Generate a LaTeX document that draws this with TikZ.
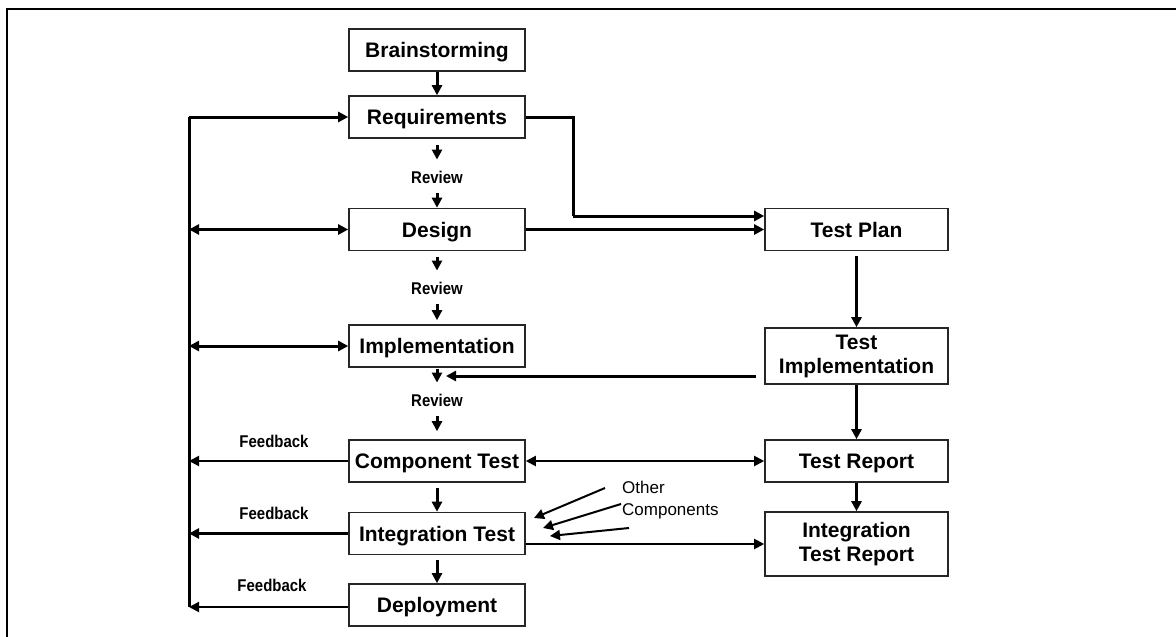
\documentclass[tikz,border=0pt]{standalone}
\usepackage{fontspec}
\setmainfont{Liberation Sans}
\newfontfamily\narrowsf[FakeStretch=0.88]{Liberation Sans}
\usetikzlibrary{arrows.meta,calc}
\tikzset{
  box/.style={rectangle, draw=black!85, line width=1.6pt, fill=white,
              minimum width=176pt, minimum height=42pt, align=center,
              inner sep=2pt, font=\fontsize{21}{24}\selectfont\bfseries},
  stage/.style={box, text height=15pt, text depth=0pt},
  tbox/.style={stage, minimum width=183pt},
  tbox2/.style={box, minimum width=183pt},
  flow/.style={-{Triangle[length=10pt,width=10pt]}, line width=3pt},
  flowt/.style={-{Triangle[length=10pt,width=10pt]}, line width=2pt},
  biflow/.style={{Triangle[length=10pt,width=10pt]}-{Triangle[length=10pt,width=10pt]},
                 line width=3pt},
  biflowt/.style={biflow, line width=2pt},
  revin/.style={flow, shorten <=6pt, shorten >=11pt},
  revout/.style={flow, shorten <=10pt},
  lbl/.style={inner sep=0pt, font=\narrowsf\bfseries\fontsize{17}{20}\selectfont},
  note/.style={inner sep=0pt, align=left, font=\fontsize{17}{22}\selectfont},
}
\begin{document}
\begin{tikzpicture}[x=1pt, y=-1pt]
  \useasboundingbox (0,0) rectangle (1176,637);
  % --- open frame (top and left edge) ---
  \draw[line width=2.2pt] (7,637) -- (7,9) -- (1176,9);

  % --- development stages (left column) ---
  \node[stage] (brain)  at (437,50)    {Brainstorming};
  \node[stage] (req)    at (437,117)   {Requirements};
  \node[stage] (design) at (437,229.5) {Design};
  \node[stage] (impl)   at (437,346)   {Implementation};
  \node[stage] (comp)   at (437,461)   {Component Test};
  \node[stage] (integ)  at (437,533.5) {Integration Test};
  \node[stage] (deploy) at (437,605)   {Deployment};

  % --- test artefacts (right column) ---
  \node[tbox] (tplan) at (856.5,229.5) {Test Plan};
  \node[tbox2, minimum height=56pt] (timpl) at (856.5,356) {Test\\Implementation};
  \node[tbox] (trep)  at (856.5,461)   {Test Report};
  \node[tbox2, minimum height=64pt] (itrep) at (856.5,544) {Integration\\Test Report};

  % --- labels ---
  \node[lbl] (rev1) at (437,177) {Review};
  \node[lbl] (rev2) at (437,288) {Review};
  \node[lbl] (rev3) at (437,400) {Review};
  \node[lbl] (fb1) at (274,441) {Feedback};
  \node[lbl] (fb2) at (274,513) {Feedback};
  \node[lbl] (fb3) at (272,585) {Feedback};
  \node[note, anchor=west] (other) at (622,500) {Other\\Components};

  % --- helper points ---
  \coordinate (bus)    at (189,117);
  \coordinate (busend) at (189,607);
  \coordinate (bend)   at (573,216);
  \coordinate (rjoin)  at (446,376);

  % --- main flow ---
  \draw[flow] (brain) -- (req);
  \draw[revin]  (req) -- (rev1);
  \draw[revout] (rev1) -- (design);
  \draw[revin]  (design) -- (rev2);
  \draw[revout, shorten >=4pt] (rev2) -- (impl);
  \draw[revin, shorten <=1pt] (impl) -- (rev3);
  \draw[revout, shorten >=8pt] (rev3) -- (comp);
  \draw[flow, shorten <=5pt] (comp) -- (integ);
  \draw[flow, shorten <=5pt] (integ) -- (deploy);

  % --- feedback bus ---
  \draw[line width=3pt] (bus) -- (busend);
  \draw[flow] (bus) -- (req);
  \draw[biflow] (bus |- design) -- (design);
  \draw[biflow] (bus |- impl) -- (impl);
  \draw[flowt] (comp.west) -- (bus |- comp.west);
  \draw[flow] (integ.west) -- (bus |- integ.west);
  \draw[flowt] (deploy.west |- busend) -- (busend);

  % --- test track ---
  \draw[line width=3pt] (req) -| (bend);
  \draw[flow] (bend) -- (bend -| tplan.west);
  \draw[flow] (design) -- (tplan);
  \draw[flow, shorten <=5pt] (tplan) -- (timpl);
  \draw[flow, shorten <=8pt] (timpl.west |- rjoin) -- (rjoin);
  \draw[flow] (timpl) -- (trep);
  \draw[flow] (trep) -- (itrep);
  \draw[biflowt] (comp) -- (trep);
  \draw[flowt] (integ.east |- itrep.west) -- (itrep.west);

  % --- other components ---
  \draw[flowt] (605,488) -- (534,518);
  \draw[flowt] (621,504) -- (543,528);
  \draw[flowt] (629,528) -- (550,536);
\end{tikzpicture}
\end{document}
